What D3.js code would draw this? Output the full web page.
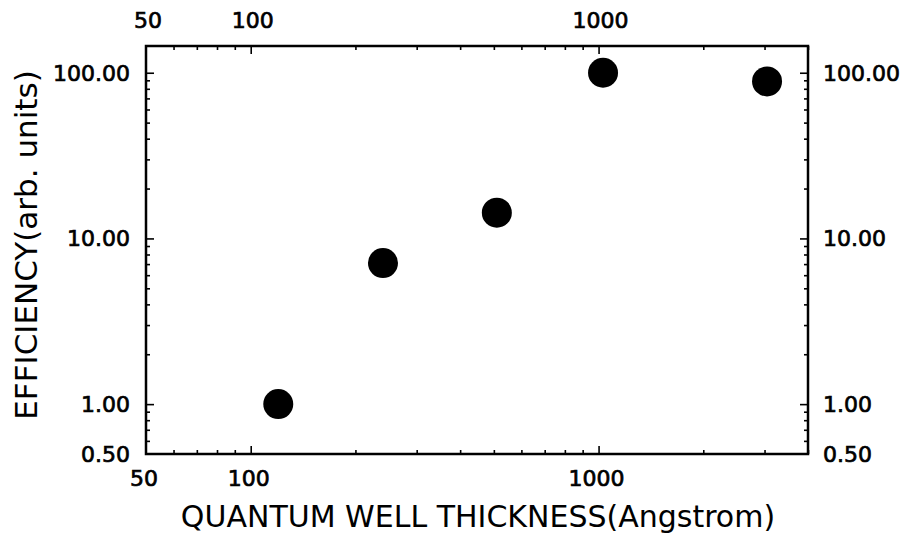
<!DOCTYPE html>
<html lang="en">
<head>
    <title>Efficiency vs quantum well thickness</title>
    <script src="https://cdnjs.cloudflare.com/ajax/libs/d3/7.8.5/d3.min.js"></script>
    <style>
        body { margin: 0; background: #fff; }
        svg { display: block; }
        .tick-label { font-family: "DejaVu Sans", sans-serif; font-size: 22px; fill: #000; stroke: #000; stroke-width: 0.7px; }
        .axis-title { font-family: "DejaVu Sans", sans-serif; font-size: 30px; fill: #000; }
        .axis path, .axis line { stroke: #000; }
    </style>
</head>
<body>
    <svg width="905" height="541"></svg>

    <script>
        // datos
        const thickness = [120, 240, 510, 1030, 3050];      // Angstrom
        const efficiency = [1.0, 7.1, 14.3, 100, 88.6];     // arb. units

        const xMajor = [100, 1000];
        const xMinor = [60, 70, 80, 90, 200, 300, 400, 500, 600, 700, 800, 900, 2000, 3000, 4000];
        const xLabels = [50, 100, 1000];

        const yMajor = [1, 10, 100];
        const yMinor = [0.6, 0.7, 0.8, 0.9, 2, 3, 4, 5, 6, 7, 8, 9, 20, 30, 40, 50, 60, 70, 80, 90];
        const yLabels = [0.5, 1, 10, 100];

        const svg = d3.select("svg");
        const margin = { left: 146, right: 97, top: 46, bottom: 87 };
        const width = 905 - margin.left - margin.right,
              height = 541 - margin.top - margin.bottom;

        const x = d3.scaleLog().domain([50, 4000]).range([0, width]);
        const y = d3.scaleLog().domain([0.5, 145]).range([height, 0]);

        const g = svg.append("g").attr("transform", `translate(${margin.left},${margin.top})`);

        // ticks hacia adentro
        function ticks(axisFn, values, size, transform) {
            g.append("g")
                .attr("class", "axis")
                .attr("transform", transform)
                .call(axisFn.tickValues(values).tickSize(-size).tickFormat(""))
                .call(a => a.select(".domain").remove())
                .selectAll("line").attr("stroke-width", 1.6);
        }

        ticks(d3.axisBottom(x), xMinor, 4, `translate(0,${height})`);
        ticks(d3.axisBottom(x), xMajor, 8, `translate(0,${height})`);
        ticks(d3.axisTop(x), xMinor, 4, "translate(0,0)");
        ticks(d3.axisTop(x), xMajor, 8, "translate(0,0)");
        ticks(d3.axisLeft(y), yMinor, 4, "translate(0,0)");
        ticks(d3.axisLeft(y), yMajor, 8, "translate(0,0)");
        ticks(d3.axisRight(y), yMinor, 4, `translate(${width},0)`);
        ticks(d3.axisRight(y), yMajor, 8, `translate(${width},0)`);

        // marco
        g.append("rect")
            .attr("x", 0).attr("y", 0)
            .attr("width", width).attr("height", height)
            .attr("fill", "none")
            .attr("stroke", "#000")
            .attr("stroke-width", 2.5);

        // etiquetas
        const fmtY = d3.format(".2f");

        g.selectAll(".xlab-bottom")
            .data(xLabels)
            .enter().append("text")
            .attr("class", "tick-label")
            .attr("x", d => x(d) - (d === 50 ? 2 : 2))
            .attr("y", height + 32)
            .attr("text-anchor", "middle")
            .text(d => d);

        g.selectAll(".xlab-top")
            .data(xLabels)
            .enter().append("text")
            .attr("class", "tick-label")
            .attr("x", d => x(d) + 2)
            .attr("y", -18)
            .attr("text-anchor", "middle")
            .text(d => d);

        g.selectAll(".ylab-left")
            .data(yLabels)
            .enter().append("text")
            .attr("class", "tick-label")
            .attr("x", -16)
            .attr("y", d => y(d))
            .attr("dy", "0.36em")
            .attr("text-anchor", "end")
            .text(d => fmtY(d));

        g.selectAll(".ylab-right")
            .data(yLabels)
            .enter().append("text")
            .attr("class", "tick-label")
            .attr("x", width + 15)
            .attr("y", d => y(d))
            .attr("dy", "0.36em")
            .attr("text-anchor", "start")
            .text(d => fmtY(d));

        // puntos
        g.selectAll("circle")
            .data(thickness.map((t, i) => ({ t, e: efficiency[i] })))
            .enter().append("circle")
            .attr("cx", d => x(d.t))
            .attr("cy", d => y(d.e))
            .attr("r", 15)
            .attr("fill", "#000");

        // titulos
        svg.append("text")
            .attr("class", "axis-title")
            .attr("x", 478)
            .attr("y", 527)
            .attr("text-anchor", "middle")
            .text("QUANTUM WELL THICKNESS(Angstrom)");

        svg.append("text")
            .attr("class", "axis-title")
            .attr("transform", "translate(37,245) rotate(-90)")
            .attr("text-anchor", "middle")
            .style("font-size", "31px")
            .text("EFFICIENCY(arb. units)");
    </script>
</body>
</html>
